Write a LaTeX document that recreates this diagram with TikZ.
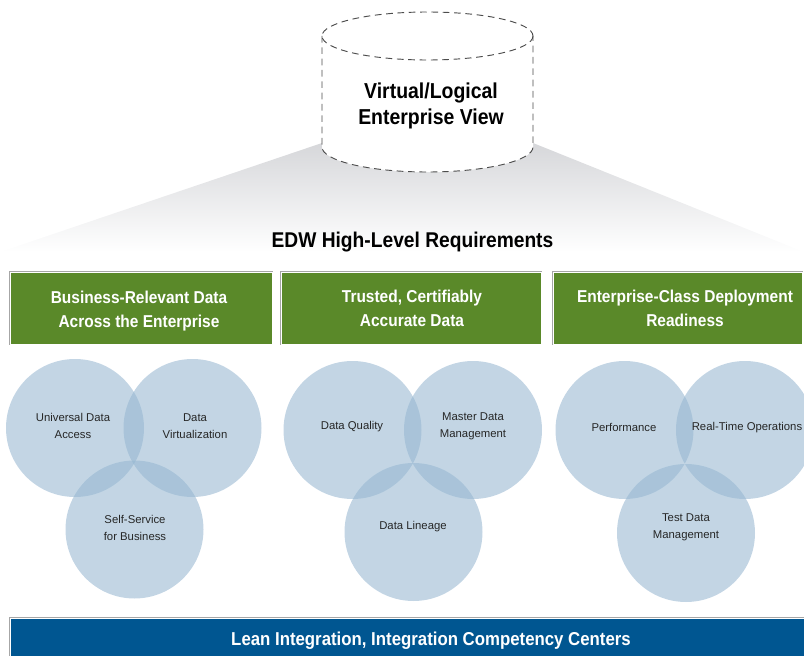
\documentclass[tikz,border=0pt]{standalone}
\usepackage{fontspec}
\setmainfont{Liberation Sans}
\newfontfamily\headfont{Liberation Sans}[FakeStretch=0.9]

\definecolor{reqgreen}{RGB}{90,137,41}
\definecolor{iccblue}{RGB}{0,86,145}
\definecolor{vennblue}{RGB}{149,182,208}
\definecolor{fadegray}{RGB}{214,215,218}

\begin{document}
\begin{tikzpicture}[x=0.75pt,y=-0.75pt]
	\tikzstyle{cyl}=[draw=black!70,line width=0.7pt,dash pattern=on 5pt off 3.5pt]
	\tikzstyle{framed}=[draw=white,line width=0.6pt,preaction={draw=gray!70,line width=2.2pt}]
	\tikzstyle{venn}=[fill=vennblue,fill opacity=0.57]
	\tikzstyle{viewtext}=[align=center,font=\headfont\bfseries\fontsize{16.2}{19.9}\selectfont]
	\tikzstyle{reqtext}=[text=white,align=center,font=\headfont\bfseries\fontsize{12.9}{18}\selectfont]
	\tikzstyle{circtext}=[align=center,text=black!85,font=\fontsize{8.5}{12.75}\selectfont]
	
	\useasboundingbox (0,0) rectangle (804,656);
	\clip (0,0) rectangle (804,656);
	
	% fan under the view
	\shade[top color=fadegray,bottom color=white] (322,143) -- (0,252) -- (804,252) -- (533,143) -- cycle;
	
	% cylinder
	\fill[white] (322,36) -- (322,147) arc[start angle=180,end angle=0,x radius=105.5,y radius=25]
		-- (533,36) arc[start angle=360,end angle=180,x radius=105.5,y radius=24] -- cycle;
	\draw[cyl] (427.5,36) ellipse[x radius=105.5,y radius=24];
	\draw[cyl] (322,36) -- (322,147) arc[start angle=180,end angle=0,x radius=105.5,y radius=25] -- (533,36);
	\node[viewtext] (view) at (431,106) {Virtual/Logical\\Enterprise View};
	
	\node[viewtext,font=\headfont\bfseries\fontsize{16}{18}\selectfont] (edw) at (412.5,242) {EDW High-Level Requirements};
	
	% requirement boxes
	\fill[reqgreen,framed] (10,272) rectangle (272,344);
	\fill[reqgreen,framed] (281,272) rectangle (541,344);
	\fill[reqgreen,framed] (553,272) rectangle (802,344);
	\node[reqtext] (business) at (139,311) {Business-Relevant Data\\Across the Enterprise};
	\node[reqtext] (trusted) at (412,308) {Trusted, Certifiably\\Accurate Data};
	\node[reqtext] (ready) at (685,308) {Enterprise-Class Deployment\\Readiness};
	
	% circles
	\foreach \cx/\cy in {75/428,192.5/428,134.5/529.5,352.5/430,473/430,413.5/532,624.5/430,745/430,686/533}
		\fill[venn] (\cx,\cy) circle[radius=69];
	
	\node[circtext] (access) at (73,426) {Universal Data\\Access};
	\node[circtext] (virt) at (195,426) {Data\\Virtualization};
	\node[circtext] (self) at (135,528) {Self-Service\\for Business};
	\node[circtext] (quality) at (352,427) {Data Quality};
	\node[circtext] (master) at (473,426) {Master Data\\Management};
	\node[circtext] (lineage) at (413,527) {Data Lineage};
	\node[circtext] (perf) at (624,427) {Performance};
	\node[circtext] (realtime) at (747,428) {Real-Time Operations};
	\node[circtext] (test) at (686,527) {Test Data\\Management};
	
	% bottom bar
	\fill[iccblue,framed] (10,618) rectangle (880,690);
	\node[reqtext,font=\headfont\bfseries\fontsize{14}{18}\selectfont] (lean) at (431,641) {Lean Integration, Integration Competency Centers};
\end{tikzpicture}
\end{document}
